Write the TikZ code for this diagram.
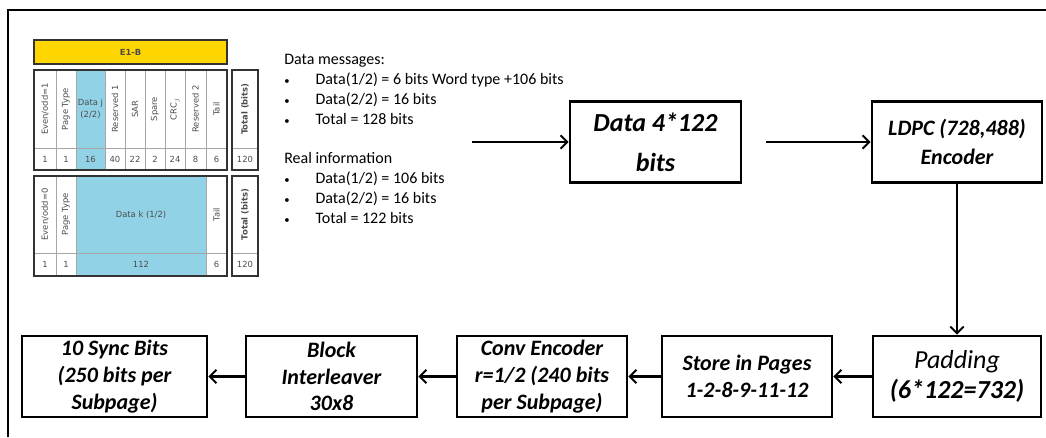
\documentclass[tikz,border=0pt]{standalone}
\usepackage{fontspec}
\setmainfont{Carlito}
\newfontfamily\tabfont{DejaVu Sans}
\usetikzlibrary{arrows.meta}
\definecolor{yellowbar}{RGB}{255,214,0}
\definecolor{datablue}{RGB}{146,210,230}
\newcommand{\bul}{\makebox[23.5pt][l]{\fontsize{8}{8}\selectfont\textbullet}}
\begin{document}
\begin{tikzpicture}[x=0.75pt,y=-0.75pt,
    stage/.style={draw,line width=2.1pt,align=center,inner sep=0pt,
      minimum width=127.5pt,minimum height=60.75pt,
      font=\fontsize{16.5}{20}\selectfont\bfseries\itshape},
    arr/.style={line width=2pt,-{Straight Barb[length=5pt,width=10pt,line width=1.5pt]}},
    cell/.style={font=\tabfont\fontsize{6.3}{7}\selectfont,text=black!70,inner sep=0pt},
    rot/.style={cell,rotate=90},
    bold/.style={font=\tabfont\bfseries\fontsize{6.3}{7}\selectfont},
    grid/.style={black!35,line width=0.5pt},
    frame/.style={black!80,line width=1.1pt}]
    \useasboundingbox (0,0) rectangle (1046,437);
    \draw[line width=1.6pt] (8,437) -- (8,10) -- (1046,10);
    % E1-B table
    \fill[yellowbar] (34,40) rectangle (227,64);
    \draw[frame] (34,40) rectangle (227,64);
    \node[cell,bold] (e1b) at (130.5,52) {E1-B};
    \fill[datablue] (76,70) rectangle (105,170);
    \draw[grid] (34,148) -- (227,148);
    \foreach \x in {56,76,105,125,145,165,185,206}
      \draw[grid] (\x,70) -- (\x,170);
    \draw[frame] (34,70) rectangle (227,170);
    \foreach \x/\t [count=\i] in {45/{Even/odd=1},66/Page Type,115/Reserved 1,135/SAR,155/Spare,175/CRC$_j$,195.5/Reserved 2,216.5/Tail}
      \node[rot] (uh\i) at (\x,109) {\t};
    \node[cell,align=center,font=\tabfont\fontsize{6.3}{9}\selectfont] (uhd) at (90.5,109) {Data j\\(2/2)};
    \foreach \x/\v [count=\i] in {45/1,66/1,90.5/16,115/40,135/22,155/2,175/24,195.5/8,216.5/6}
      \node[cell] (uv\i) at (\x,159) {\v};
    \draw[grid] (232,148) -- (258,148);
    \draw[frame] (232,70) rectangle (258,170);
    \node[rot,bold] (ut) at (245,109) {Total (bits)};
    \node[cell] (utv) at (245,159) {120};
    % lower table
    \fill[datablue] (76,176) rectangle (206,276);
    \draw[grid] (34,253) -- (227,253);
    \foreach \x in {56,76,206}
      \draw[grid] (\x,176) -- (\x,276);
    \draw[frame] (34,176) rectangle (227,276);
    \foreach \x/\t [count=\i] in {45/{Even/odd=0},66/Page Type,216.5/Tail}
      \node[rot] (lh\i) at (\x,214.5) {\t};
    \node[cell] (lhd) at (141,214.5) {Data k (1/2)};
    \foreach \x/\v [count=\i] in {45/1,66/1,141/112,216.5/6}
      \node[cell] (lv\i) at (\x,264.5) {\v};
    \draw[grid] (232,253) -- (258,253);
    \draw[frame] (232,176) rectangle (258,276);
    \node[rot,bold] (lt) at (245,214.5) {Total (bits)};
    \node[cell] (ltv) at (245,264.5) {120};
    % notes
    \node[anchor=north west,align=left,inner sep=0pt,font=\fontsize{12}{15}\selectfont] (msgs) at (284,54)
      {Data messages:\\
       \bul Data(1/2) = 6 bits Word type +106 bits\\
       \bul Data(2/2) = 16 bits\\
       \bul Total = 128 bits};
    \node[anchor=north west,align=left,inner sep=0pt,font=\fontsize{12}{15}\selectfont] (info) at (284,152)
      {Real information\\
       \bul Data(1/2) = 106 bits\\
       \bul Data(2/2) = 16 bits\\
       \bul Total = 122 bits};
    % chain
    \node[stage,minimum width=128.25pt,font=\fontsize{19.5}{30}\selectfont\bfseries\itshape] (data) at (655.5,142) {Data 4*122\\bits};
    \node[stage,font=\fontsize{16.5}{22}\selectfont\bfseries\itshape] (ldpc) at (957,142) {LDPC (728,488)\\Encoder};
    \node[stage,minimum width=126pt,font=\fontsize{19.5}{22.5}\selectfont\bfseries\itshape] (pad) at (957,376.5) {{\mdseries Padding}\\(6*122=732)};
    \node[stage] (store) at (747,376.5) {Store in Pages\\1-2-8-9-11-12};
    \node[stage] (conv) at (542,376.5) {Conv Encoder\\r=1/2 (240 bits\\per Subpage)};
    \node[stage,minimum width=128.25pt] (intl) at (331.5,376.5) {Block\\Interleaver\\30x8};
    \node[stage,minimum width=138.75pt] (sync) at (114.5,376.5) {10 Sync Bits\\(250 bits per\\Subpage)};
    \coordinate (msgout) at (472,142);
    \draw[arr] (msgout) -- (data);
    \draw[arr,shorten <=18pt] (data) -- (ldpc);
    \draw[arr] (ldpc) -- (pad);
    \draw[arr] (pad) -- (store);
    \draw[arr] (store) -- (conv);
    \draw[arr] (conv) -- (intl);
    \draw[arr] (intl) -- (sync);
  \end{tikzpicture}
\end{document}
